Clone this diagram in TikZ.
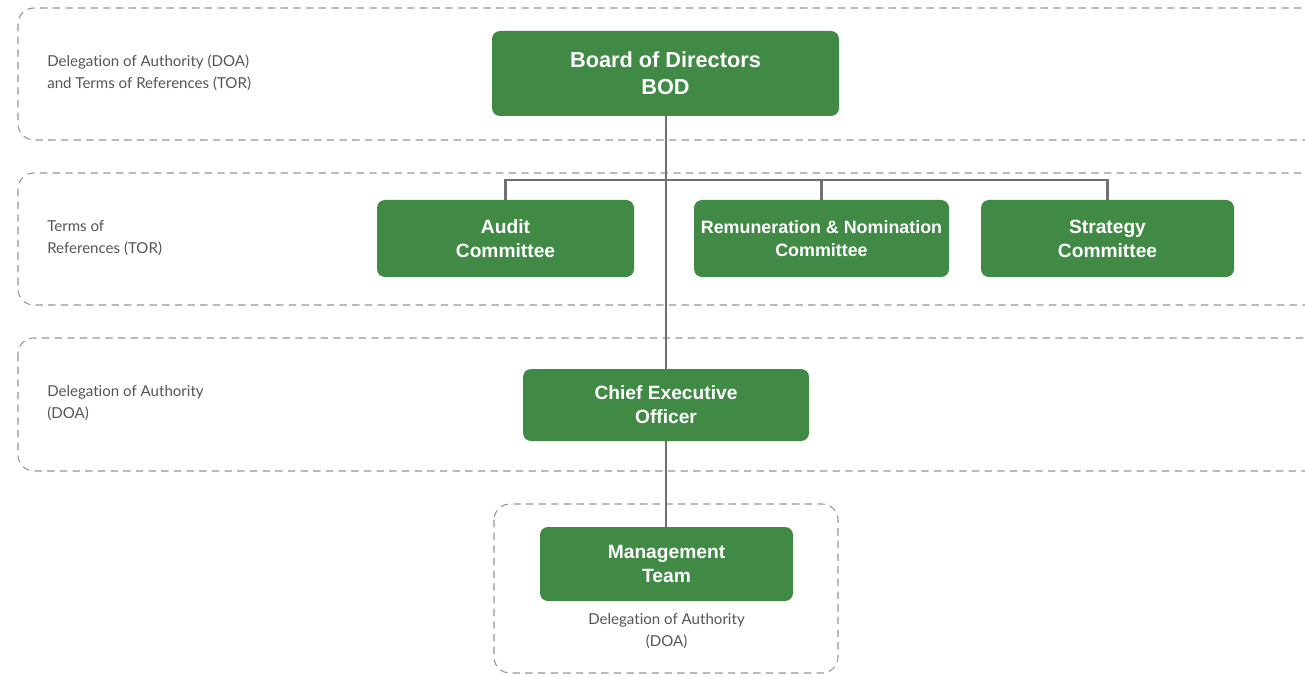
\documentclass[tikz,border=0pt]{standalone}
\usepackage{fontspec}
\setmainfont{Liberation Sans}
\newfontfamily\notefont[Ligatures={NoCommon}]{Lato}
\definecolor{boxgreen}{RGB}{64,138,70}
\definecolor{linkgray}{RGB}{112,112,112}
\definecolor{bandgray}{RGB}{150,150,150}
\definecolor{notegray}{RGB}{85,85,85}
\tikzset{
  orgbox/.style={fill=boxgreen, rounded corners=6pt, inner sep=0pt,
    text=white, font=\bfseries\fontsize{14.4}{18}\selectfont, align=center},
  band/.style={draw=bandgray, line width=0.8pt, dash pattern=on 5.5pt off 4pt,
    rounded corners=12pt},
  link/.style={draw=linkgray, line width=1.6pt},
  note/.style={text=notegray, font=\notefont\fontsize{11.3}{16.5}\selectfont,
    align=left, anchor=west, inner sep=0pt},
}
\begin{document}
\begin{tikzpicture}[x=0.75pt, y=-0.75pt]
\clip (0,0) rectangle (1305,677);
\fill[white] (0,0) rectangle (1305,677);

% dashed bands grouping the levels
\draw[band] (18,8) rectangle (1325,140);
\draw[band] (18,173) rectangle (1325,305);
\draw[band] (18,338) rectangle (1325,471);
\draw[band] (494,504) rectangle (838,673);

% band notes
\node[note] (n1) at (47,73) {Delegation of Authority (DOA)\\and Terms of References (TOR)};
\node[note] (n2) at (47,238) {Terms of\\References (TOR)};
\node[note] (n3) at (47,403) {Delegation of Authority\\(DOA)};
\node[note, anchor=center, align=center] (n4) at (666.5,631) {Delegation of Authority\\(DOA)};

% organisation boxes
\node[orgbox, minimum width=260.25pt, minimum height=63.75pt,
  font=\bfseries\fontsize{16.3}{20}\selectfont] (bod) at (665.5,73.5) {Board of Directors\\BOD};
\node[orgbox, minimum width=192.75pt, minimum height=57.75pt] (audit) at (505.5,238.5) {Audit\\Committee};
\node[orgbox, minimum width=191.25pt, minimum height=57.75pt,
  font=\bfseries\fontsize{13.4}{17}\selectfont] (remun) at (821.5,238.5) {Remuneration \& Nomination\\Committee};
\node[orgbox, minimum width=189.75pt, minimum height=57.75pt] (strat) at (1107.5,238.5) {Strategy\\Committee};
\node[orgbox, minimum width=214.5pt, minimum height=54pt] (ceo) at (666,405) {Chief Executive\\Officer};
\node[orgbox, minimum width=189.75pt, minimum height=55.5pt] (mgmt) at (666.5,564) {Management\\Team};

% reporting lines
\coordinate (bus) at (666,180);
\draw[link] (bod.south -| bus) -- (ceo.north -| bus);
\draw[link] (ceo.south -| bus) -- (mgmt.north -| bus);
\draw[link] (audit.north) -- (audit.north |- bus) -- (strat.north |- bus) -- (strat.north);
\draw[link] (remun.north) -- (remun.north |- bus);
\end{tikzpicture}
\end{document}
